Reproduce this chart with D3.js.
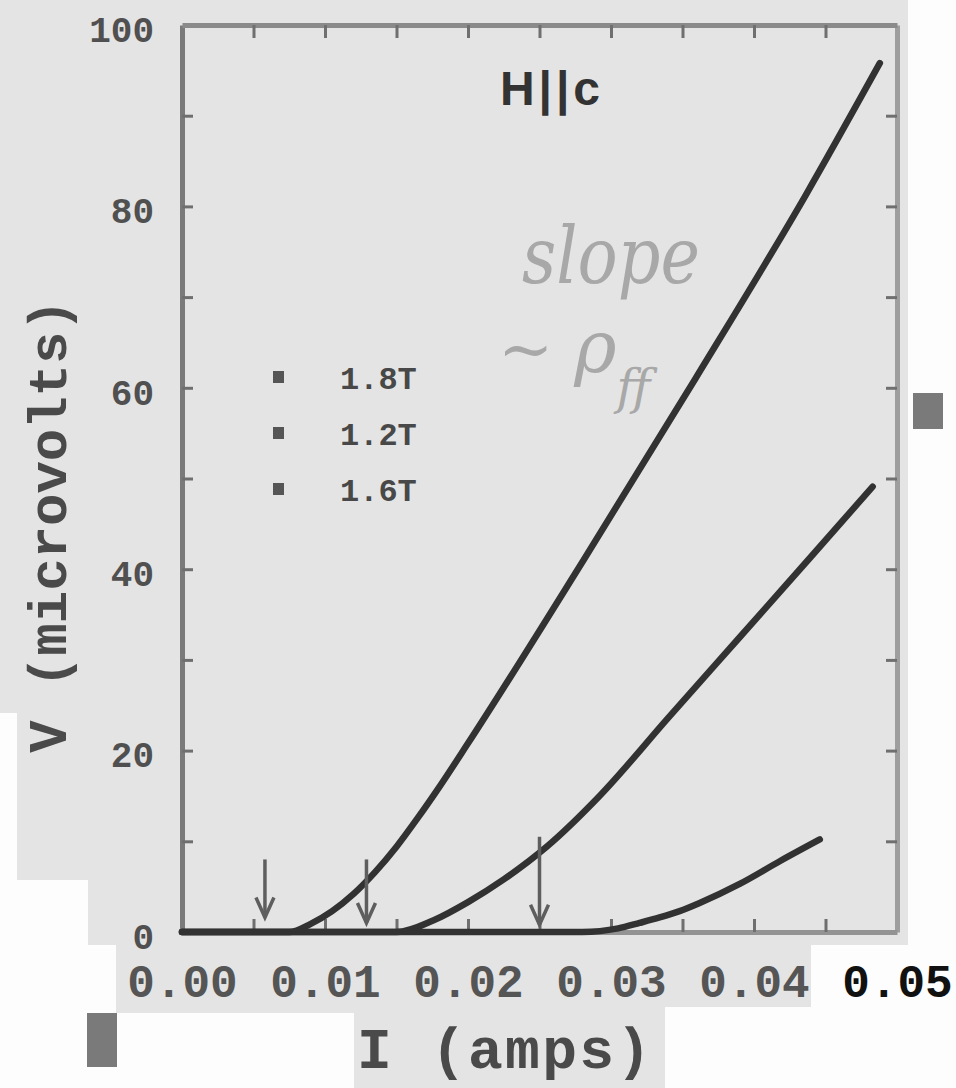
<!DOCTYPE html>
<html>
<head>
<meta charset="utf-8">
<script src="https://cdn.jsdelivr.net/npm/d3@7"></script>
<style>
  html, body { margin: 0; padding: 0; background: #fdfdfd; }
  svg { display: block; }
</style>
</head>
<body>
<svg id="chart" width="956" height="1088"></svg>
<script>
// Field labels shown in the legend
const fields = ["1.8T", "1.2T", "1.6T"];

// I–V readings, current in amps, voltage in microvolts
const currentA = [0, 0.0075, 0.0090, 0.0105, 0.0120, 0.0135, 0.0150, 0.0165, 0.0180, 0.0200, 0.0280, 0.0359, 0.0436, 0.0488];
const voltageA = [0, 0, 0.9, 2.3, 4.2, 6.6, 9.4, 12.6, 16.0, 20.8, 40.8, 61.0, 81.2, 95.8];

const currentB = [0, 0.0150, 0.0176, 0.0200, 0.0225, 0.0255, 0.0292, 0.0340, 0.0390, 0.0440, 0.0483];
const voltageB = [0, 0, 1.3, 3.3, 5.8, 9.4, 15.0, 23.6, 32.5, 41.4, 49.1];

const currentC = [0, 0.0280, 0.0305, 0.0320, 0.0334, 0.0348, 0.0362, 0.0390, 0.0418, 0.0446];
const voltageC = [0, 0, 0.4, 1.0, 1.6, 2.3, 3.2, 5.3, 7.8, 10.2];

// Onset arrows: current position, top and tip voltage
const arrowI = [0.0058, 0.0129, 0.0250];
const arrowTop = [8.0, 8.0, 10.5];
const arrowTip = [1.6, 1.0, 0.8];

// Tick values and labels
const xLabelTicks = [0, 0.01, 0.02, 0.03, 0.04, 0.05];
const xLabels = ["0.00", "0.01", "0.02", "0.03", "0.04", "0.05"];
const xMinorTicks = d3.range(1, 10).map(i => i * 0.005);
const yLabelTicks = [0, 20, 40, 60, 80, 100];
const yMinorTicks = d3.range(1, 10).map(i => i * 10);

const svg = d3.select("#chart");
const x = d3.scaleLinear().domain([0, 0.05]).range([182, 897]);
const y = d3.scaleLinear().domain([0, 100]).range([932, 25]);

// Paper: grey slide background with white margins
svg.append("path")
  .attr("d", "M0,0H908V945H811V1007H665V1088H354V1013H116V945H88V880H17V713H0Z")
  .attr("fill", "#e4e4e4");
svg.append("rect").attr("x", 913).attr("y", 393).attr("width", 30).attr("height", 36).attr("fill", "#7a7a7a");
svg.append("rect").attr("x", 87).attr("y", 1013).attr("width", 30).attr("height", 54).attr("fill", "#7a7a7a");

const mono = "'Liberation Mono', 'DejaVu Sans Mono', monospace";

// Inward tick marks on all four sides
function ticks(g, color) {
  g.selectAll(".domain").attr("stroke", color).attr("stroke-width", 5);
  g.selectAll(".tick line").attr("stroke", "#6f6f6f").attr("stroke-width", 3);
}
svg.append("g").attr("transform", "translate(182,0)")
  .call(d3.axisLeft(y).tickValues(yMinorTicks).tickSize(-11).tickSizeOuter(0).tickFormat(""))
  .call(g => ticks(g, "#7a7a7a"));
svg.append("g").attr("transform", "translate(897,0)")
  .call(d3.axisRight(y).tickValues(yMinorTicks).tickSize(-11).tickSizeOuter(0).tickFormat(""))
  .call(g => ticks(g, "#9e9e9e"));
svg.append("g").attr("transform", "translate(0,25)")
  .call(d3.axisTop(x).tickValues(xMinorTicks).tickSize(-13).tickSizeOuter(0).tickFormat(""))
  .call(g => ticks(g, "#8a8a8a"));
svg.append("g").attr("transform", "translate(0,932)")
  .call(d3.axisBottom(x).tickValues(xMinorTicks).tickSize(-13).tickSizeOuter(0).tickFormat(""))
  .call(g => ticks(g, "#939393"));

// Tick labels
svg.append("g").attr("transform", "translate(182,0)")
  .call(d3.axisLeft(y).tickValues(yLabelTicks).tickSize(0).tickPadding(28).tickFormat(d3.format("d")))
  .call(g => g.select(".domain").remove())
  .call(g => g.selectAll("text")
    .attr("font-family", mono).attr("font-size", 36).attr("font-weight", "bold")
    .attr("fill", "#505050").attr("dy", "0.45em"));

svg.append("g").attr("transform", "translate(0,932)")
  .call(d3.axisBottom(x).tickValues(xLabelTicks).tickSize(0).tickPadding(32)
    .tickFormat((d, i) => xLabels[i]))
  .call(g => g.select(".domain").remove())
  .call(g => g.selectAll("text")
    .attr("font-family", mono).attr("font-size", 46).attr("font-weight", "bold")
    .attr("fill", (d, i) => i === xLabels.length - 1 ? "#111" : "#555"));

// Axis titles
svg.append("text")
  .attr("transform", "translate(66,526) rotate(-90)")
  .attr("text-anchor", "middle")
  .attr("font-family", mono).attr("font-size", 54).attr("font-weight", "bold")
  .attr("fill", "#4a4a4a")
  .text("V (microvolts)");
svg.append("text")
  .attr("x", 357).attr("y", 1068)
  .attr("font-family", mono).attr("font-size", 58).attr("font-weight", "bold")
  .attr("textLength", 294).attr("lengthAdjust", "spacing")
  .attr("fill", "#4a4a4a")
  .text("I (amps)");

// Curves
const line = d3.line().x(d => x(d[0])).y(d => y(d[1])).curve(d3.curveMonotoneX);
const series = [d3.zip(currentA, voltageA), d3.zip(currentB, voltageB), d3.zip(currentC, voltageC)];
svg.append("g").selectAll("path").data(series).join("path")
  .attr("d", line)
  .attr("fill", "none")
  .attr("stroke", "#323232")
  .attr("stroke-width", 6.5)
  .attr("stroke-linejoin", "round")
  .attr("stroke-linecap", "round");

// Onset arrows
const arrows = svg.append("g").attr("stroke", "#5e5e5e").attr("stroke-width", 3.5).attr("fill", "none");
arrowI.forEach((v, i) => {
  const ax = x(v), top = y(arrowTop[i]), tip = y(arrowTip[i]);
  arrows.append("line").attr("x1", ax).attr("x2", ax).attr("y1", top).attr("y2", tip);
  arrows.append("path").attr("d", `M${ax - 9},${tip - 20}L${ax},${tip}L${ax + 9},${tip - 20}`);
});

// Legend
const legend = svg.append("g");
fields.forEach((f, i) => {
  const cy = 377 + i * 56;
  legend.append("rect").attr("x", 273).attr("y", cy - 6).attr("width", 11).attr("height", 12).attr("fill", "#555");
  legend.append("text").attr("x", 340).attr("y", cy + 12)
    .attr("font-family", mono).attr("font-size", 32).attr("font-weight", "bold")
    .attr("fill", "#484848").text(f);
});

// Field orientation label
svg.append("text")
  .attr("x", 500).attr("y", 105)
  .attr("font-family", "'Liberation Sans', Arial, sans-serif")
  .attr("font-size", 48).attr("font-weight", "bold")
  .attr("textLength", 100).attr("lengthAdjust", "spacing")
  .attr("fill", "#333").text("H||c");

// Handwritten note
const note = svg.append("g").attr("fill", "#a8a8a8")
  .attr("font-family", "'DejaVu Serif', serif").attr("font-style", "italic");
note.append("text").attr("x", 522).attr("y", 283).attr("font-size", 78)
  .attr("textLength", 178).attr("lengthAdjust", "spacingAndGlyphs").text("slope");
const rho = note.append("text").attr("x", 498).attr("y", 372);
rho.append("tspan").attr("font-size", 66).text("~ ");
rho.append("tspan").attr("font-size", 72).text("ρ");
rho.append("tspan").attr("font-size", 48).attr("dy", 32).text("ff");
</script>
</body>
</html>
